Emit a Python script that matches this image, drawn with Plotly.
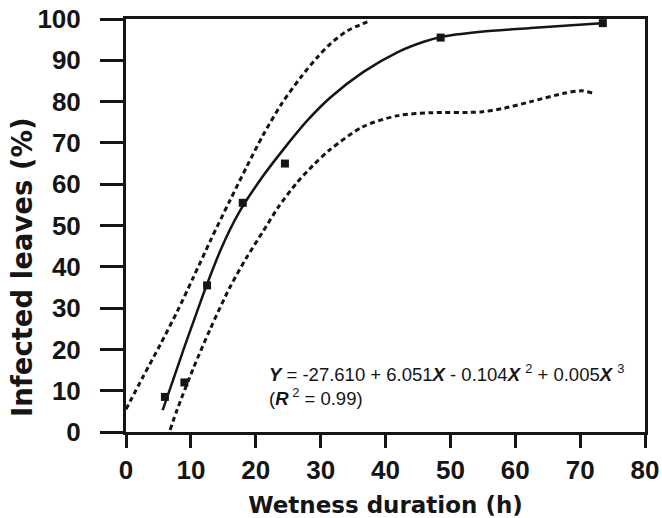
import plotly.graph_objects as go

# Observed data
obs_x = [6, 9, 12.5, 18, 24.5, 48.5, 73.5]
obs_y = [8.5, 12, 35.5, 55.5, 65, 95.5, 99]

# Fitted curve (as drawn)
fit_x = [5.65, 7.2, 8.94, 10.8, 12.3, 14.7, 17.3, 20.9, 24.3, 28, 31.5, 36.6, 41.9, 45.9, 48.4, 54.7, 62.4, 73.3]
fit_y = [5.3, 12.3, 20.3, 28.5, 35, 44.5, 52.8, 61.5, 68.5, 75.5, 81, 87.2, 92, 94.5, 95.6, 96.9, 97.8, 99]

# Upper confidence band
up_x = [0, 2.6, 5.3, 7.9, 10.4, 13, 16, 18.6, 21.1, 24, 26.9, 29.3, 31.5, 34.2, 37.2]
up_y = [5.5, 13.3, 21.2, 29.2, 37.5, 46.3, 56, 64.2, 71.8, 79.5, 85.8, 90.4, 94, 97.2, 99.3]

# Lower confidence band
lo_x = [6.8, 7.9, 10.4, 13, 16, 18.5, 21.1, 23.5, 26.3, 28.8, 31.4, 36.5, 41.9, 47, 54.7, 58.3, 62.4, 67.5, 70.2, 72]
lo_y = [0.5, 5.5, 15.5, 25, 35, 42, 48.5, 54.5, 60.3, 64.5, 68.3, 73.9, 76.6, 77.3, 77.5, 78.4, 80, 82, 82.6, 82]

x_ticks = [0, 10, 20, 30, 40, 50, 60, 70, 80]
y_ticks = [0, 10, 20, 30, 40, 50, 60, 70, 80, 90, 100]

x_title = "Wetness duration (h)"
y_title = "Infected leaves (%)"

INK = "#151515"
FONT = "Liberation Sans, Arial, sans-serif"
TITLE_FONT = "DejaVu Sans, Verdana, sans-serif"
dash = "5px,3.5px"

fig = go.Figure()
fig.add_trace(go.Scatter(x=up_x, y=up_y, mode="lines",
                         line=dict(color=INK, width=3, dash=dash, shape="spline", smoothing=0.8),
                         showlegend=False, hoverinfo="skip"))
fig.add_trace(go.Scatter(x=lo_x, y=lo_y, mode="lines",
                         line=dict(color=INK, width=3, dash=dash, shape="spline", smoothing=0.8),
                         showlegend=False, hoverinfo="skip"))
fig.add_trace(go.Scatter(x=fit_x, y=fit_y, mode="lines",
                         line=dict(color=INK, width=2.5, shape="spline", smoothing=0.8),
                         showlegend=False))
fig.add_trace(go.Scatter(x=obs_x, y=obs_y, mode="markers",
                         marker=dict(symbol="square", size=8, color=INK),
                         showlegend=False))

fig.add_annotation(
    x=21.8, y=11.5, xref="x", yref="y", xanchor="left", yanchor="middle",
    align="left", showarrow=False,
    text=("<b><i>Y</i></b> = -27.610 + 6.051<b><i>X</i></b> - 0.104<b><i>X</i></b> <sup>2</sup>"
          " + 0.005<b><i>X</i></b> <sup>3</sup><br>(<b><i>R</i></b><sup> 2</sup> = 0.99)"),
    font=dict(family=FONT, size=18.5, color=INK),
)

# y-axis title (sits below the axis centre in the original)
fig.add_annotation(
    x=-0.2, y=0.4, xref="paper", yref="paper", xanchor="center", yanchor="middle",
    textangle=-90, showarrow=False, text=f"<b>{y_title}</b>",
    font=dict(family=TITLE_FONT, size=27.5, color=INK),
)

axis_common = dict(
    showgrid=False, zeroline=False, showline=True, linecolor=INK, linewidth=3,
    mirror=True, ticks="outside", tickcolor=INK, tickwidth=3, automargin=False,
    ticklabeloverflow="allow",
    tickfont=dict(family=FONT, size=26, color=INK, weight="bold"),
)

fig.update_xaxes(range=[0, 80], tickvals=x_ticks, ticklen=13, ticklabelstandoff=0,
                 title=dict(text=f"<b>{x_title}</b>",
                            font=dict(family=TITLE_FONT, size=23, color=INK),
                            standoff=14),
                 **axis_common)
fig.update_yaxes(range=[0, 100], tickvals=y_ticks, ticklen=23, ticklabelstandoff=14,
                 **axis_common)

fig.update_layout(
    width=662, height=518,
    margin=dict(l=126, r=17, t=19, b=86),
    paper_bgcolor="white", plot_bgcolor="white",
    font=dict(family=FONT, color=INK),
)

# remove the page's default body margin so the figure fills the window exactly
fig.write_html("out.html", config={"displayModeBar": False},
               post_script="document.body.style.margin='0';")
